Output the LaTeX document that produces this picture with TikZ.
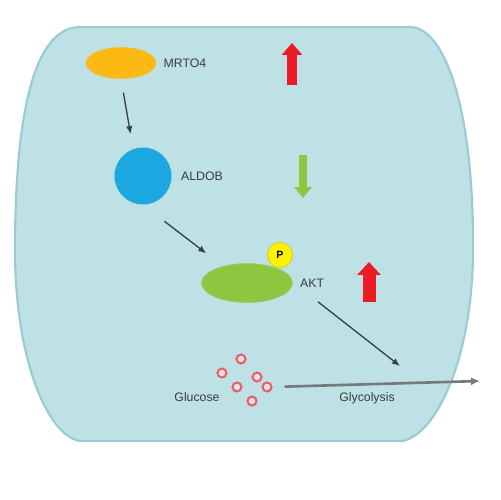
\documentclass[tikz,border=0pt]{standalone}
\usepackage{fontspec}
\setmainfont{Liberation Sans}
\usetikzlibrary{positioning,shapes,arrows,arrows.meta}

\definecolor{cellfill}{HTML}{BDE1E4}
\definecolor{celledge}{HTML}{9BCBD2}
\definecolor{mrtocol}{HTML}{FDB913}
\definecolor{aldobcol}{HTML}{1CA7E1}
\definecolor{aktcol}{HTML}{8DC63F}
\definecolor{pcol}{HTML}{FFF200}
\definecolor{upred}{HTML}{ED1C24}
\definecolor{labgray}{HTML}{3C3C3C}
\definecolor{conngray}{HTML}{3A3F42}
\definecolor{glcred}{HTML}{E5626D}

\begin{document}
\begin{tikzpicture}[x=0.02cm, y=-0.02cm, font=\fontsize{7}{8}\selectfont,
  lbl/.style={inner sep=0pt, text=labgray},
  conn/.style={draw=conngray, line width=0.75pt, -{Latex[length=1.6mm,width=1.3mm]}},
  glc/.style={circle, draw=glcred, fill=white!80!glcred, line width=1.2pt, minimum size=0.18cm, inner sep=0pt}]
  \useasboundingbox (0,0) rectangle (500,500);

  % cell
  \draw [celledge, fill=cellfill, line width=1.2pt] (80,27) -- (410,27)
    .. controls (445,27) and (474,110) .. (473,250)
    .. controls (473,350) and (440,432) .. (403,441) -- (80,441)
    .. controls (48,436) and (15,360) .. (15,250)
    .. controls (15,110) and (35,27) .. (80,27) -- cycle;

  \node[ellipse, fill=mrtocol, draw=mrtocol!80!cellfill, minimum width=1.4cm, minimum height=0.62cm] (mrto4) at (121,63) {};
  \node[lbl, right=0.14cm of mrto4] (mrto4lab) {MRTO4};
  \node[circle, fill=aldobcol, minimum size=1.14cm, inner sep=0pt] (aldob) at (143,176) {};
  \node[lbl, right=0.18cm of aldob] (aldoblab) {ALDOB};
  \node[ellipse, fill=aktcol, draw=aktcol!70!cellfill, minimum width=1.82cm, minimum height=0.78cm] (akt) at (247,283) {};
  \node[lbl, right=0.14cm of akt] (aktlab) {AKT};
  \node[circle, fill=pcol, draw=pcol!85!black, minimum size=0.5cm, inner sep=0pt, font=\fontsize{6}{7}\selectfont\bfseries] (phos) at (280,255) {P};

  % up / down
  \draw [upred, line width=0.2cm, -{Triangle[width=0.4cm,length=0.24cm]}] (292,85) -- (292,43);
  \draw [aktcol, line width=0.16cm, -{Triangle[width=0.34cm,length=0.22cm]}] (303,155) -- (303,198);
  \draw [upred, line width=0.26cm, -{Triangle[width=0.46cm,length=0.26cm]}] (369,302) -- (369,262);

  \draw [conn, shorten <=0.28cm, shorten >=0.3cm] (mrto4.south) -- (aldob.110);
  \draw [conn, shorten <=0.54cm, shorten >=0.42cm] (aldob.south) -- (akt.145);

  \foreach \gx/\gy [count=\i] in {241/359, 222/373, 257/377, 267/387, 237/387, 252/401}
    \node[glc] (g\i) at (\gx,\gy) {};
  \node[lbl] (glclab) at (197,397) {Glucose};

  \coordinate (aktend) at (400,366);
  \draw [conn, shorten <=0.46cm] (aktlab.south west) -- (aktend);
  \coordinate (glyout) at (480,381);
  \draw [draw=conngray!70!white, line width=1.5pt, -{Latex[length=1.8mm,width=1.6mm]}, shorten <=0.24cm] (g4.east) -- (glyout);
  \node[lbl] (glylab) at (367,398) {Glycolysis};
\end{tikzpicture}
\end{document}
